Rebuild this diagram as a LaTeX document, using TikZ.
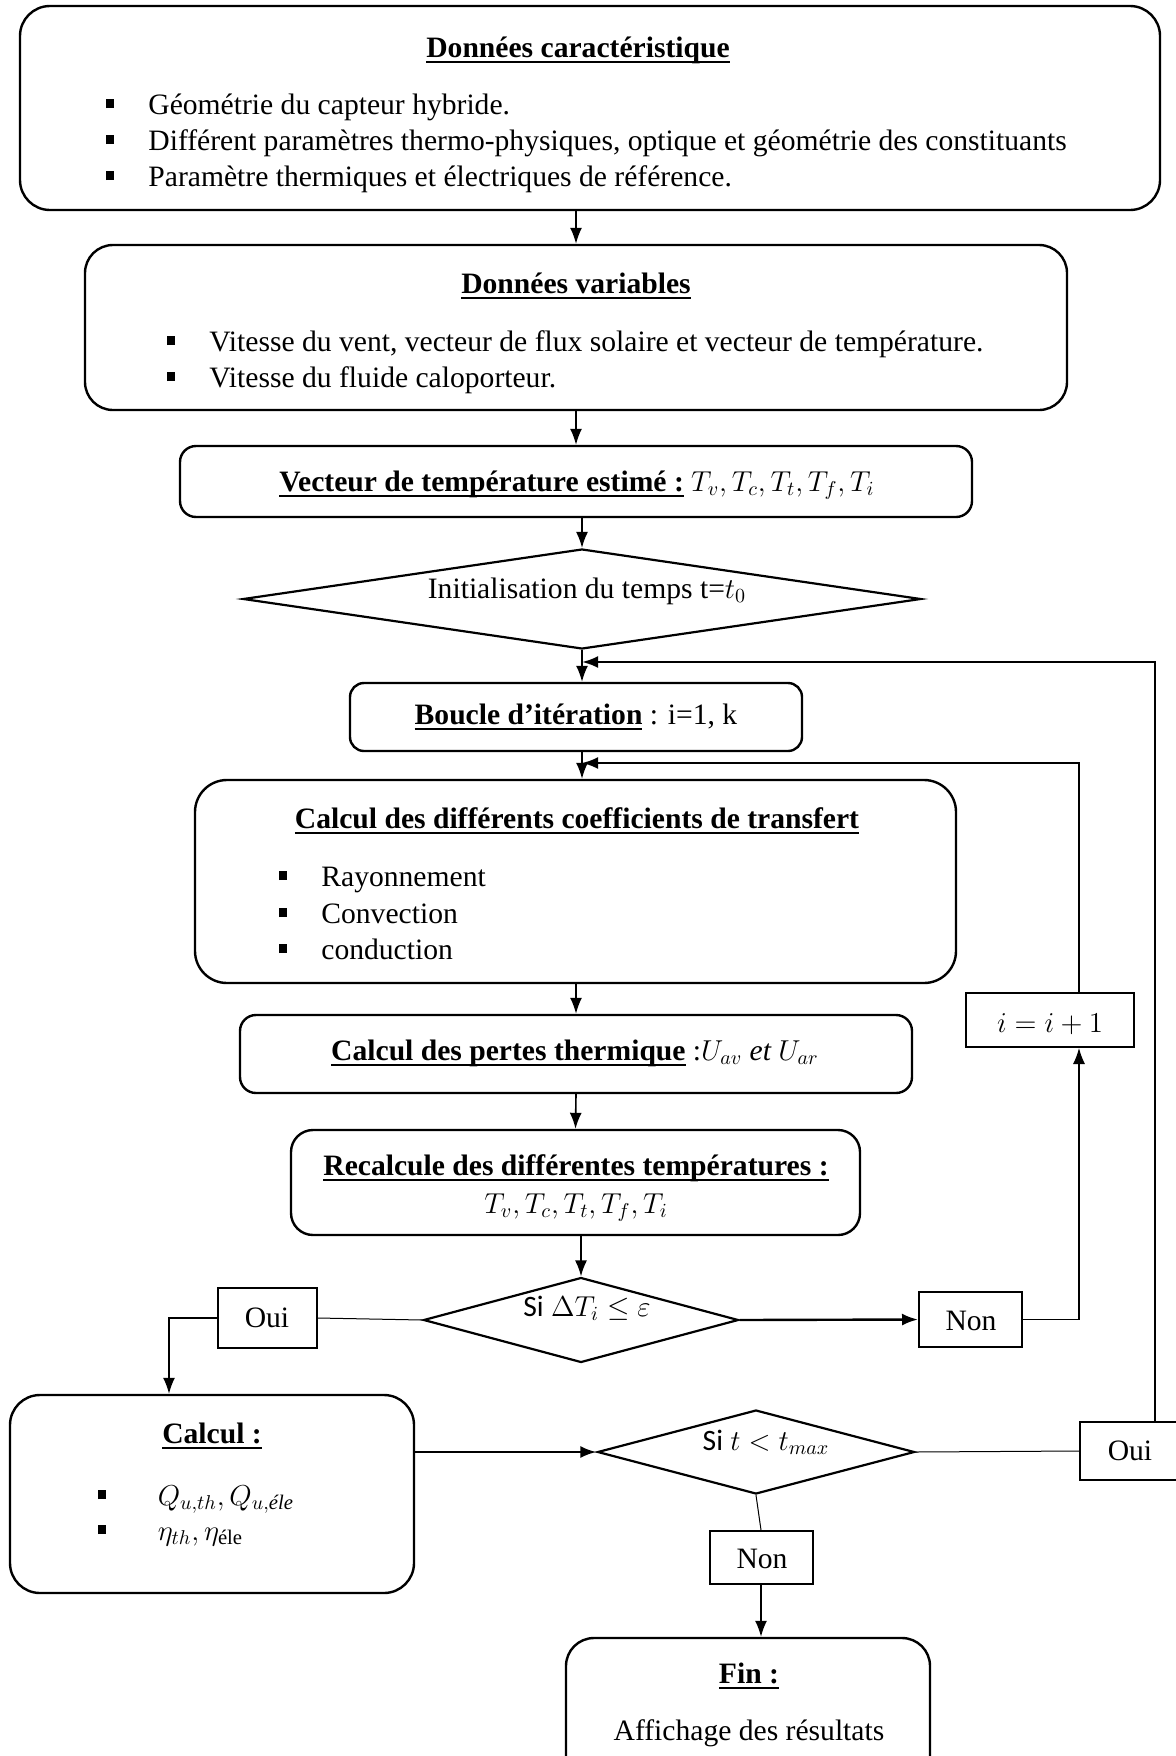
\documentclass[tikz,border=0pt]{standalone}
\usepackage{fontspec}
\usepackage{amsmath}
\setmainfont{Liberation Serif}
\newfontfamily\sifont{Carlito}
\usetikzlibrary{shapes.geometric,arrows.meta,calc}

% underline at a fixed depth, like a word processor does
\newcommand\undl[1]{\setbox0\hbox{#1}\rlap{\rule[-3pt]{\wd0}{1pt}}\box0\relax}
% small square bullet placed to the left of a list line
\newcommand\sqbx[1]{\llap{\rule[3pt]{4pt}{4.5pt}\hspace{#1}}}
\newcommand\sqb{\sqbx{17pt}}

\tikzset{
  rbox/.style={draw, line width=1.2pt, inner sep=0pt},
  dbox/.style={draw, diamond, line width=1.1pt, inner sep=0pt},
  sbox/.style={draw, rectangle, line width=1pt, inner sep=0pt},
  txt/.style={inner sep=0pt, font=\fontsize{14.8pt}{17pt}\selectfont},
  arr/.style={-{Latex[length=8pt,width=6pt]}, line width=0.8pt},
  arrthick/.style={-{Latex[length=8pt,width=6pt]}, line width=1.2pt},
  thin/.style={line width=0.5pt},
}

\begin{document}
\begin{tikzpicture}[x=0.5pt, y=-0.5pt]
\useasboundingbox (0,0) rectangle (1176,1756);
\fill[white] (0,0) rectangle (1176,1756);
\clip (0,0) rectangle (1176,1756);

% ---- boxes ----
\node[rbox, rounded corners=15pt, minimum width=570pt, minimum height=102pt] (B1) at (590,108) {};
\node[rbox, rounded corners=14pt, minimum width=491pt, minimum height=82.5pt] (B2) at (576,327.5) {};
\node[rbox, rounded corners=8pt, minimum width=396pt, minimum height=35.5pt] (B3) at (576,481.5) {};
\node[dbox, minimum width=339pt, minimum height=50pt] (D1) at (582,599) {};
\node[rbox, rounded corners=7pt, minimum width=226pt, minimum height=34pt] (Boucle) at (576,717) {};
\node[rbox, rounded corners=16pt, minimum width=380.5pt, minimum height=101.5pt] (Coeff) at (575.5,881.5) {};
\node[rbox, rounded corners=8pt, minimum width=336pt, minimum height=39pt] (Pertes) at (576,1054) {};
\node[rbox, rounded corners=11pt, minimum width=284.5pt, minimum height=52.5pt] (Recalc) at (575.5,1182.5) {};
\node[dbox, minimum width=157.5pt, minimum height=42.5pt] (D2) at (581,1320) {};
\node[sbox, minimum width=49.5pt, minimum height=30pt] (OuiL) at (267.5,1318) {};
\node[sbox, minimum width=51.5pt, minimum height=27.5pt] (NonR) at (970.5,1319.5) {};
\node[sbox, minimum width=84pt, minimum height=27pt] (iinc) at (1050,1020) {};
\node[rbox, rounded corners=15pt, minimum width=202pt, minimum height=99pt] (Calc) at (212,1494) {};
\node[dbox, minimum width=158.5pt, minimum height=42pt] (D3) at (756,1452) {};
\node[sbox, minimum width=50pt, minimum height=29pt] (OuiR) at (1130,1451) {};
\node[sbox, minimum width=51.5pt, minimum height=26.5pt] (NonB) at (761,1557.5) {};
\node[rbox, rounded corners=14pt, minimum width=182pt, minimum height=76pt] (Fin) at (748,1714) {};

% ---- texts ----
\node[txt, anchor=base] (t1) at (578,57) {\undl{\textbf{Données caractéristique}}};
\node[txt, anchor=base west] (t1a) at (148,114) {\sqb Géométrie du capteur hybride.};
\node[txt, anchor=base west] (t1b) at (148,150) {\sqb Différent paramètres thermo-physiques, optique et géométrie des constituants};
\node[txt, anchor=base west] (t1c) at (148,186) {\sqb Paramètre thermiques et électriques de référence.};

\node[txt, anchor=base] (t2) at (576,293) {\undl{\textbf{Données variables}}};
\node[txt, anchor=base west] (t2a) at (209,351) {\sqb Vitesse du vent, vecteur de flux solaire et vecteur de température.};
\node[txt, anchor=base west] (t2b) at (209,387) {\sqb Vitesse du fluide caloporteur.};

\node[txt, anchor=base] (t3) at (577,491) {\undl{\textbf{Vecteur de température estimé :}} $T_v,T_c,T_t,T_f,T_i$};
\node[txt, anchor=base] (t4) at (587,598) {Initialisation du temps t=$t_0$};
\node[txt, anchor=base] (t5) at (576,724) {\undl{\textbf{Boucle d’itération}} : i=1, k};

\node[txt, anchor=base] (t6) at (577,828) {\undl{\textbf{Calcul des différents coefficients de transfert}}};
\node[txt, anchor=base west] (t6a) at (321,886) {\sqb Rayonnement};
\node[txt, anchor=base west] (t6b) at (321,923) {\sqb Convection};
\node[txt, anchor=base west] (t6c) at (321,959) {\sqb conduction};

\node[txt, anchor=base] (t7) at (575,1060) {\undl{\textbf{Calcul des pertes thermique}} :$U_{av}\ \mathit{et}\ U_{ar}$};
\node[txt, anchor=base] (t8) at (576,1175) {\undl{\textbf{Recalcule des différentes températures :}}};
\node[txt, anchor=base] (t8m) at (576,1213) {$T_v,T_c,T_t,T_f,T_i$};

\node[txt, anchor=base] (t9) at (587,1316) {{\sifont Si}\ $\Delta T_i \le \varepsilon$};
\node[txt, anchor=base] (t10) at (267,1327) {Oui};
\node[txt, anchor=base] (t11) at (971,1330) {Non};
\node[txt, anchor=base] (t12) at (1050,1032) {$i = i + 1$};

\node[txt, anchor=base] (t13) at (212,1443) {\undl{\textbf{Calcul :}}};
\node[txt, anchor=base west] (t13a) at (150,1505) {\sqbx{22pt} $Q_{u,th}, Q_{u,\text{\itshape éle}}$};
\node[txt, anchor=base west] (t13b) at (150,1540) {\sqbx{22pt} $\eta_{th}, \eta_{\text{éle}}$};

\node[txt, anchor=base] (t14) at (766,1450) {{\sifont Si}\ $t < t_{max}$};
\node[txt, anchor=base] (t15) at (1130,1460) {Oui};
\node[txt, anchor=base] (t16) at (762,1568) {Non};
\node[txt, anchor=base] (t17) at (749,1683) {\undl{\textbf{Fin :}}};
\node[txt, anchor=base] (t18) at (749,1740) {Affichage des résultats};

% ---- junctions ----
\coordinate (j1) at (582,662);
\coordinate (j2) at (582,763);
\coordinate (c1) at (169,1318);
\coordinate (c2) at (1079,1313);
\coordinate (c3) at (1155,1422);

% ---- main flow ----
\draw[arr] (B2.north |- B1.south) -- (B2.north);
\draw[arr] (B2.south) -- (B3.north);
\draw[arr] (D1.north |- B3.south) -- (D1.north);
\draw[arr] (D1.south) -- (D1.south |- Boucle.north);
\draw[arr] (D1.south |- Boucle.south) -- (D1.south |- Coeff.north);
\draw[arr] (Pertes.north |- Coeff.south) -- (Pertes.north);
\draw[arr] (Pertes.south) -- (Recalc.north);
\draw[arr] (D2.north |- Recalc.south) -- (D2.north);

% ---- convergence test ----
\draw[thin] (D2.west) -- (OuiL.east);
\draw[arr] (OuiL.west) -- (c1) -- (c1 |- Calc.north);
\draw[arrthick] (D2.east) -- (NonR.west);
\draw[arr, line width=0.6pt] (NonR.east) -- (NonR.east -| c2) -- (c2 |- iinc.south);
\draw[arrthick] (c2 |- iinc.north) -- (c2 |- j2) -- (j2);

% ---- time test ----
\draw[arrthick] (Calc.east |- D3.west) -- (D3.west);
\draw[thin] (D3.east) -- (OuiR.west);
\draw[arrthick] (c3 |- OuiR.north) -- (c3 |- j1) -- (j1);
\draw[thin] (D3.south) -- (NonB.north);
\draw[arr] (NonB.south) -- (Fin.north -| NonB.south);
\end{tikzpicture}
\end{document}
